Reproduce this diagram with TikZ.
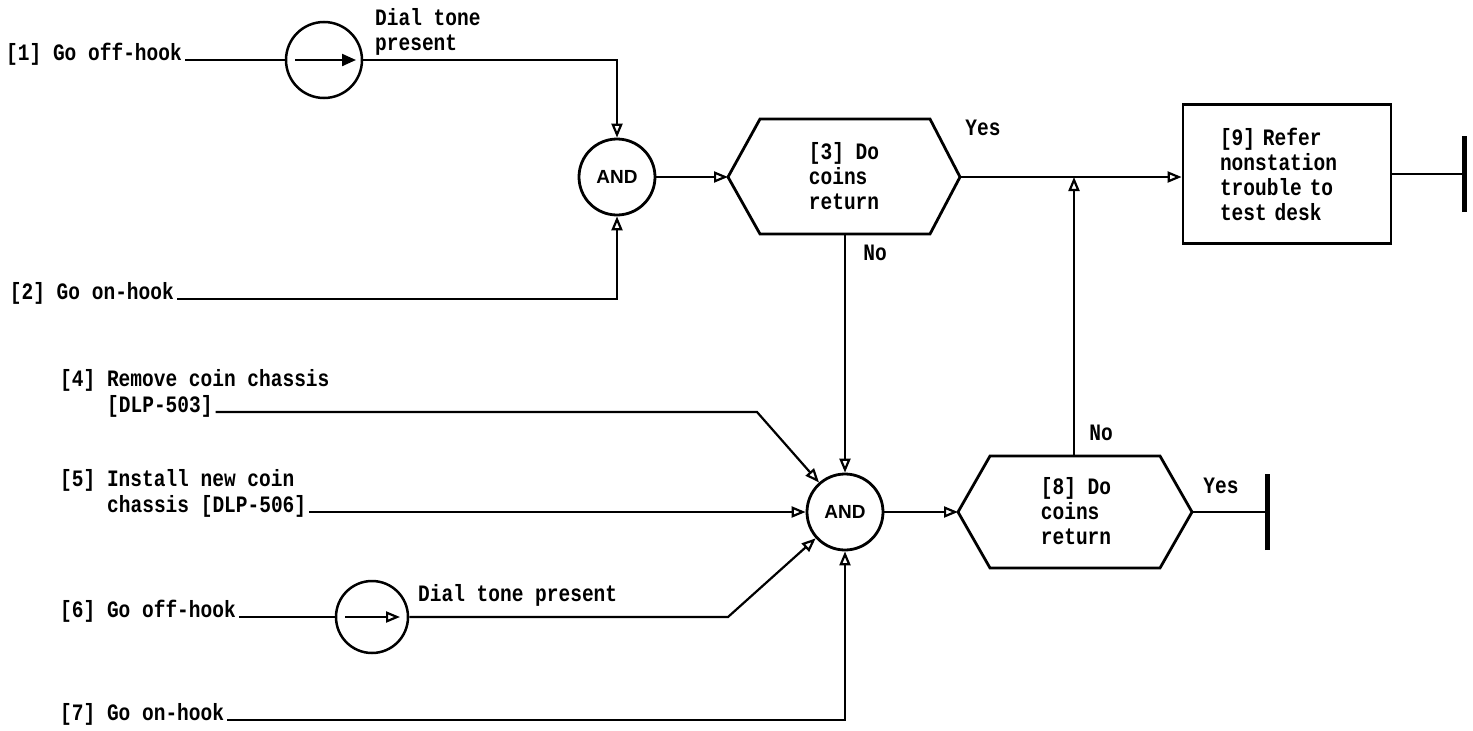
\documentclass[tikz,border=0pt]{standalone}
\usepackage{fontspec}
\newfontfamily\tw[FakeStretch=0.83]{Liberation Mono}
\newfontfamily\hv{Liberation Sans}
\usetikzlibrary{arrows.meta}
\begin{document}
\begin{tikzpicture}[x=1pt,y=-1pt,
  txt/.style={font={\tw\bfseries\fontsize{23.5}{25}\selectfont}, inner sep=0pt},
  lab/.style={txt, inner xsep=3pt, inner ysep=0pt},
  gate/.style={circle, draw, line width=2.8pt, minimum size=76pt, inner sep=0pt, font={\hv\bfseries\fontsize{19}{19}\selectfont}},
  tone/.style={circle, draw, line width=2.5pt, minimum size=76pt, inner sep=0pt},
  conn/.style={line width=2.2pt},
  arr/.style={conn, -{Triangle[open,length=14pt,width=11pt,line width=2.2pt]}},
  shp/.style={line width=2.8pt, line join=miter},
  tee/.style={line width=5pt}
]
\useasboundingbox (0,0) rectangle (1473,731);

% ---- top group
\node[lab, anchor=base east] (l1) at (185,60) {[1] Go off-hook};
\node[tone] (c1) at (324,60) {};
\draw[conn, -{Triangle[length=14pt,width=12pt]}] ([xshift=-29pt]c1.center) -- ([xshift=32pt]c1.center);
\node[txt, anchor=north west, align=left] (dt1) at (375,8) {Dial tone\\present};
\node[gate] (a1) at (617,177) {AND};
\draw[conn] (l1.base east) -- (c1);
\draw[arr] (c1) -| (a1);
\node[lab, anchor=base east] (l2) at (177,299) {[2] Go on-hook};
\draw[arr] (l2.base east) -| (a1);

% ---- decision 3
\node[txt, align=left] (h3) at (844,176) {[3] Do\\coins\\return};
\draw[shp] (728,177) coordinate (h3w) -- (760,119) -- (930,119) -- (960,177) coordinate (h3e) -- (930,234) -- (760,234) -- cycle;
\coordinate (h3s) at (845,234);
\draw[arr] (a1) -- (h3w);

% ---- box 9
\node[draw, shp, txt, minimum width=208pt, minimum height=139pt, text width=134pt, align=left] (b9) at (1287,174) {[9] Refer\\nonstation\\trouble to\\test desk};
\draw[arr] (h3e) -- (h3e -| b9.west);
\node[txt] (y3) at (983,128) {Yes};
\coordinate (t9) at (1464,174);
\draw[conn] (b9.east) -- (t9);
\draw[tee] ([yshift=-38pt]t9) -- ([yshift=38pt]t9);

% ---- AND 2
\node[gate] (a2) at (845,512) {AND};
\draw[arr] (h3s) -- (a2);
\node[txt] (n3) at (875,253) {No};

\node[lab, anchor=base west] (l4a) at (57,386) {[4] Remove coin chassis};
\node[lab, anchor=base west] (l4b) at (104,412) {[DLP-503]};
\coordinate (k4) at (757,412);
\draw[arr] (l4b.base east) -- (k4) -- (a2);

\node[lab, anchor=base west] (l5a) at (57,486) {[5] Install new coin};
\node[lab, anchor=base west] (l5b) at (104,512) {chassis [DLP-506]};
\draw[arr] (l5b.base east) -- (a2);

\node[lab, anchor=base west] (l6) at (57,617) {[6] Go off-hook};
\node[tone, minimum size=72pt] (c2) at (372,617) {};
\draw[conn, -{Triangle[open,length=14pt,width=11pt,line width=2.2pt]}] ([xshift=-27pt]c2.center) -- ([xshift=28pt]c2.center);
\node[lab, anchor=base west] (dt2) at (415,601) {Dial tone present};
\coordinate (k6) at (728,617);
\draw[conn] (l6.base east) -- (c2);
\draw[arr] (c2) -- (k6) -- (a2);

\node[lab, anchor=base west] (l7) at (57,720) {[7] Go on-hook};
\draw[arr] (l7.base east) -| (a2);

% ---- decision 8
\node[txt, align=left] (h8) at (1076,511) {[8] Do\\coins\\return};
\draw[shp] (958,512) coordinate (h8w) -- (990,456) -- (1074,456) coordinate (h8n) -- (1160,456) -- (1192,512) coordinate (h8e) -- (1160,568) -- (990,568) -- cycle;
\draw[arr] (a2) -- (h8w);
\draw[arr] (h8n) -- (h8n |- h3e);
\node[txt] (n8) at (1101,433) {No};
\node[txt] (y8) at (1221,486) {Yes};
\coordinate (t8) at (1267,512);
\draw[conn] (h8e) -- (t8);
\draw[tee] ([yshift=-38pt]t8) -- ([yshift=38pt]t8);
\end{tikzpicture}
\end{document}
